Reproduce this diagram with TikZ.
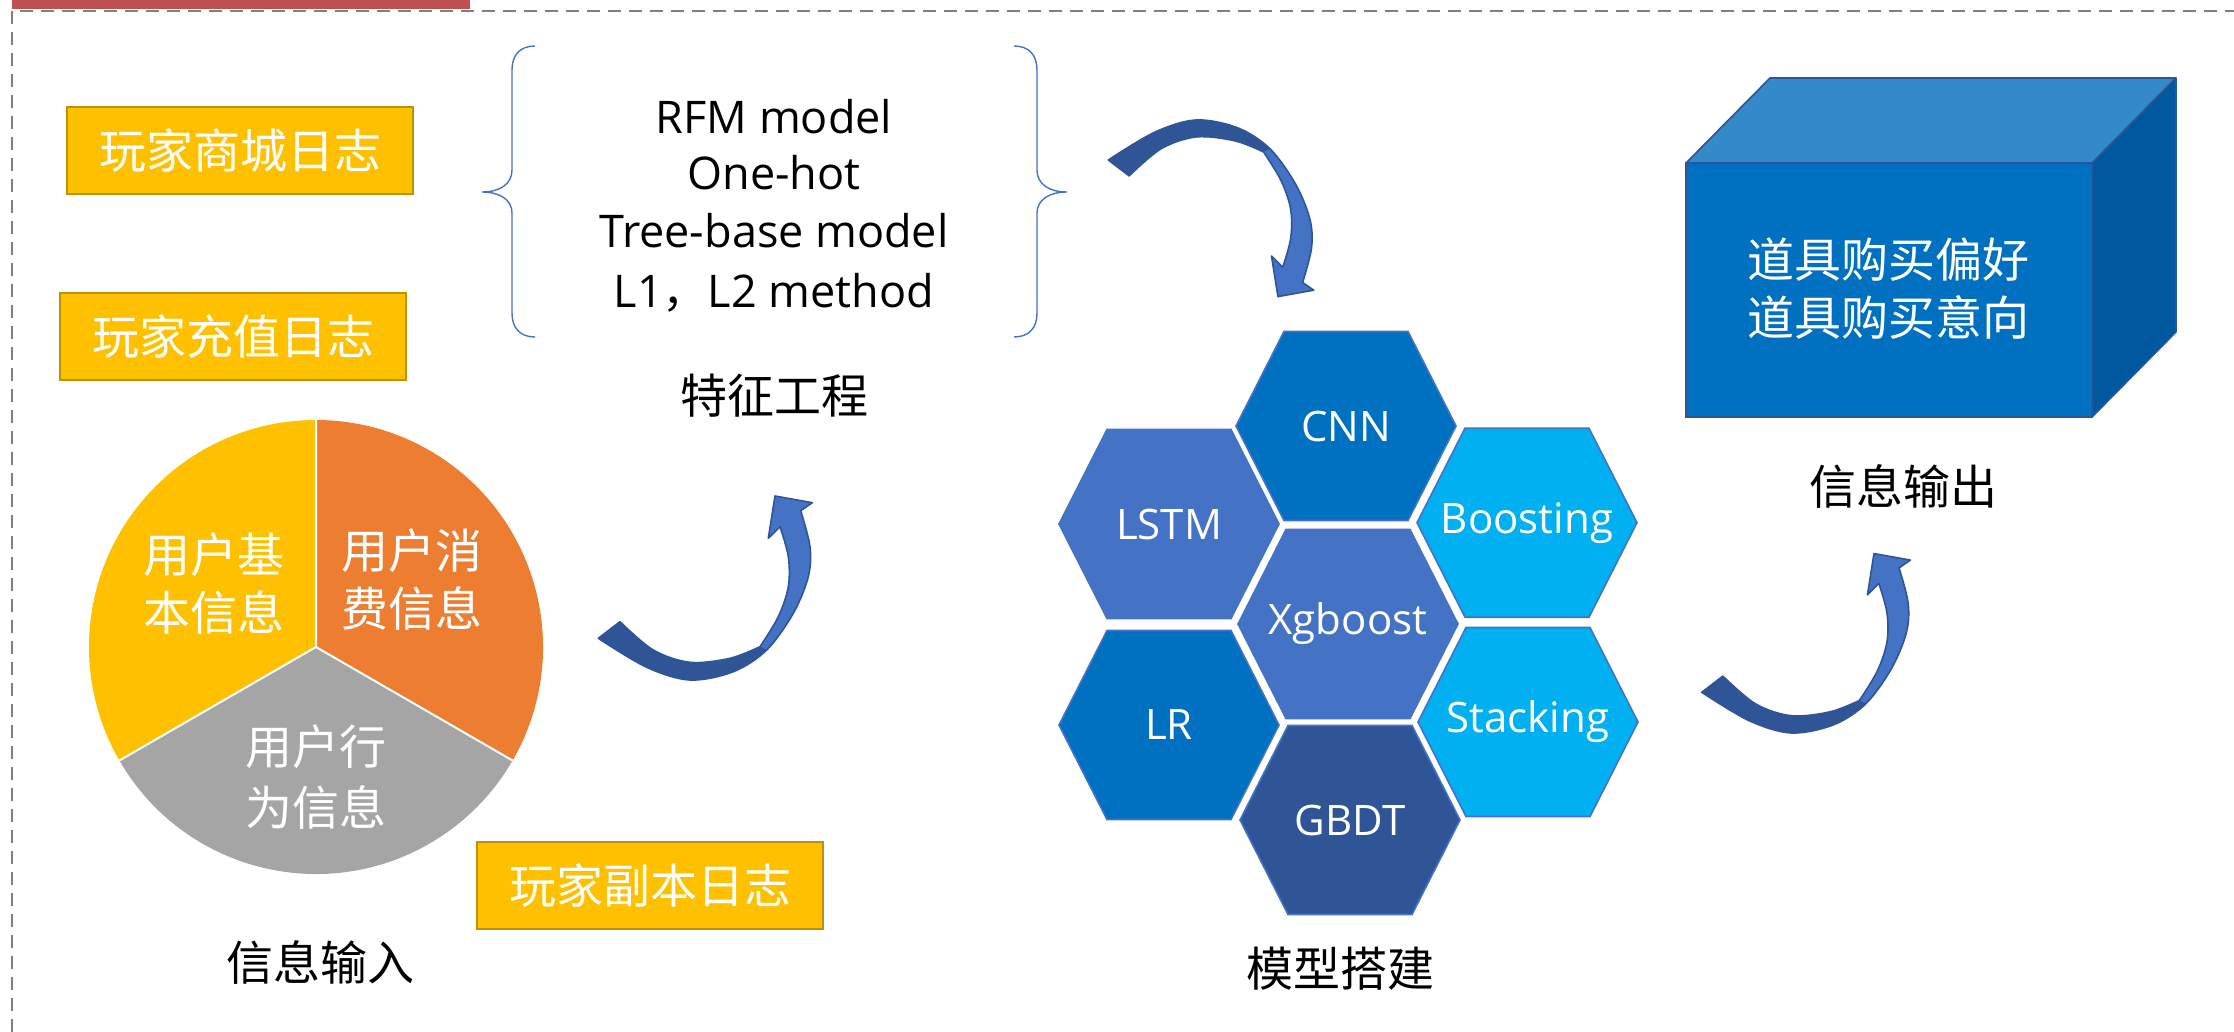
\documentclass[tikz,border=0pt]{standalone}
\usepackage{fontspec}
\setmainfont{Open Sans}
\newfontfamily\cjk{Noto Sans CJK SC}
\definecolor{gold}{HTML}{FFC000}
\definecolor{goldline}{HTML}{BF9000}
\definecolor{pieorange}{HTML}{ED7D31}
\definecolor{piegray}{HTML}{A5A5A5}
\definecolor{redbar}{HTML}{C0504D}
\definecolor{framegray}{HTML}{7F7F7F}
\definecolor{bracecol}{HTML}{4472C4}
\definecolor{arrlight}{HTML}{4472C4}
\definecolor{arrdark}{HTML}{2F5597}
\definecolor{hexA}{HTML}{0070C0}
\definecolor{hexB}{HTML}{4472C4}
\definecolor{hexC}{HTML}{00B0F0}
\definecolor{hexD}{HTML}{2F5597}
\definecolor{hexline}{HTML}{4472C4}
\definecolor{cubefront}{HTML}{0070C0}
\definecolor{cubetop}{HTML}{3489CA}
\definecolor{cubeside}{HTML}{00589F}
\definecolor{cubeline}{HTML}{2F5597}
\begin{document}
\begin{tikzpicture}[x=0.5pt,y=-0.5pt,
  wcjk/.style={font=\cjk\fontsize{23.5}{28}\selectfont, text=white, inner sep=0pt},
  bcjk/.style={font=\cjk\fontsize{23.5}{28}\selectfont, text=black, inner sep=0pt},
  logbox/.style={fill=gold, draw=goldline, line width=1pt, minimum width=173pt, minimum height=43.5pt,
    font=\cjk\fontsize{23.5}{28}\selectfont, text=white, inner sep=0pt},
  featline/.style={font=\fontsize{22.5}{27}\selectfont, text=black, inner sep=0pt, anchor=base},
  hexlbl/.style={font=\fontsize{21}{25}\selectfont, text=white, inner sep=0pt},
  hexa/.pic={\path[pic actions] (-110,0) -- (-62,-94.5) -- (62,-94.5) -- (110,0) -- (62,94.5) -- (-62,94.5) -- cycle;},
  hexstyle/.style={draw=hexline, line width=0.8pt},
  curvarr/.pic={
    \filldraw[fill=arrlight, draw=arrdark, line width=0.8pt, line join=round]
      plot[smooth,tension=0.55] coordinates {(0,0) (48.4,29.0) (91.7,41.7) (135.0,33.4) (168.4,11.7) (195.0,-25.0) (210.0,-61.6) (211.7,-91.6) (202.4,-127.6)}
      -- (214.0,-135.6) -- (176.7,-142.3) -- (170.0,-100.0) -- (181.7,-111.6)
      -- plot[smooth,tension=0.55] coordinates {(181.7,-111.6) (190.0,-81.6) (190.0,-51.6) (180.0,-21.6) (161.7,8.4)}
      -- plot[smooth,tension=0.55] coordinates {(161.7,8.4) (131.7,20.0) (91.7,24.0) (55.0,11.7) (21.7,-16.6)}
      -- cycle;
    \fill[arrdark]
      plot[smooth,tension=0.55] coordinates {(0,0) (48.4,29.0) (91.7,41.7) (135.0,33.4) (168.4,11.7)}
      -- plot[smooth,tension=0.55] coordinates {(161.7,8.4) (131.7,20.0) (91.7,24.0) (55.0,11.7) (21.7,-16.6)}
      -- cycle;
  }]
\useasboundingbox (0,0) rectangle (2234,1032);
\fill[white] (0,0) rectangle (2234,1032);

% frame
\fill[redbar] (12,0) rectangle (470,9);
\draw[framegray, line width=1.2pt, dash pattern=on 6.5pt off 4pt] (12,1032) -- (12,11) -- (2234,11);

% log boxes
\node[logbox] (mall) at (240,151) {玩家商城日志};
\node[logbox] (recharge) at (233,336.5) {玩家充值日志};
\node[logbox] (dungeon) at (650,885.5) {玩家副本日志};

% pie
\fill[gold] (316,647) -- (316,420) arc[start angle=-90, end angle=-210, radius=227] -- cycle;
\fill[piegray] (316,647) -- (119.4,760.5) arc[start angle=-210, end angle=-330, radius=227] -- cycle;
\fill[pieorange] (316,647) -- (512.6,760.5) arc[start angle=-330, end angle=-450, radius=227] -- cycle;
\draw[white, line width=1pt] (316,420) -- (316,647) -- (119.4,760.5) (316,647) -- (512.6,760.5);
\node[wcjk] (p1a) at (214,555) {用户基};
\node[wcjk] (p1b) at (214,612) {本信息};
\node[wcjk] (p2a) at (412,551) {用户消};
\node[wcjk] (p2b) at (412,608) {费信息};
\node[wcjk] (p3a) at (316,747) {用户行};
\node[wcjk] (p3b) at (316,807) {为信息};
\node[bcjk] (inlbl) at (320,962) {信息输入};

% feature engineering braces and text
\draw[bracecol, line width=0.7pt] (535,46) .. controls (520,46) and (512,55) .. (512,70) -- (512,170)
  .. controls (512,184) and (500,192) .. (482,192) .. controls (500,192) and (512,200) .. (512,213)
  -- (512,313) .. controls (512,328) and (520,337) .. (535,337);
\draw[bracecol, line width=0.7pt] (1014,46) .. controls (1029,46) and (1037,55) .. (1037,70) -- (1037,170)
  .. controls (1037,184) and (1049,192) .. (1067,192) .. controls (1049,192) and (1037,200) .. (1037,213)
  -- (1037,313) .. controls (1037,328) and (1029,337) .. (1014,337);
\node[featline] (f1) at (774,134) {RFM model};
\node[featline] (f2) at (774,190) {One-hot};
\node[featline] (f3) at (774,248) {Tree-base model};
\node[featline] (f4) at (774,307) {L1{\cjk ，}L2 method};
\node[bcjk] (featlbl) at (774,396) {特征工程};

% curved arrows
\pic at (598.3,638.3) {curvarr};
\pic[scale=0.96, yscale=-1] at (1108.3,160) {curvarr};
\pic[scale=0.975] at (1701.7,692.3) {curvarr};

% hexagons
\pic[fill=hexA, hexstyle] at (1346,426) {hexa};
\pic[fill=hexB, hexstyle] at (1169,524) {hexa};
\pic[fill=hexB, hexstyle] at (1348,624) {hexa};
\pic[fill=hexC, hexstyle] at (1527,522.7) {hexa};
\pic[fill=hexA, hexstyle] at (1169,725) {hexa};
\pic[fill=hexC, hexstyle] at (1528,722) {hexa};
\pic[fill=hexD, hexstyle] at (1350,820) {hexa};
\node[hexlbl] (cnn) at (1346,426) {CNN};
\node[hexlbl] (lstm) at (1169,524) {LSTM};
\node[hexlbl] (xgb) at (1348,624) {Xgboost};
\node[hexlbl] (boost) at (1527,522.7) {Boosting};
\node[hexlbl] (lr) at (1169,725) {LR};
\node[hexlbl] (stack) at (1528,722) {Stacking};
\node[hexlbl] (gbdt) at (1350,820) {GBDT};
\node[bcjk] (modellbl) at (1340,969) {模型搭建};

% cube
\filldraw[fill=cubetop, draw=cubeline, line width=0.8pt, line join=round] (1686,163) -- (1770,78) -- (2176,78) -- (2092,163) -- cycle;
\filldraw[fill=cubeside, draw=cubeline, line width=0.8pt, line join=round] (2092,163) -- (2176,78) -- (2176,332) -- (2092,417) -- cycle;
\filldraw[fill=cubefront, draw=cubeline, line width=0.8pt] (1686,163) rectangle (2092,417);
\node[wcjk] (out1) at (1888,260) {道具购买偏好};
\node[wcjk] (out2) at (1888,317) {道具购买意向};
\node[bcjk] (outlbl) at (1903,486) {信息输出};
\end{tikzpicture}
\end{document}
